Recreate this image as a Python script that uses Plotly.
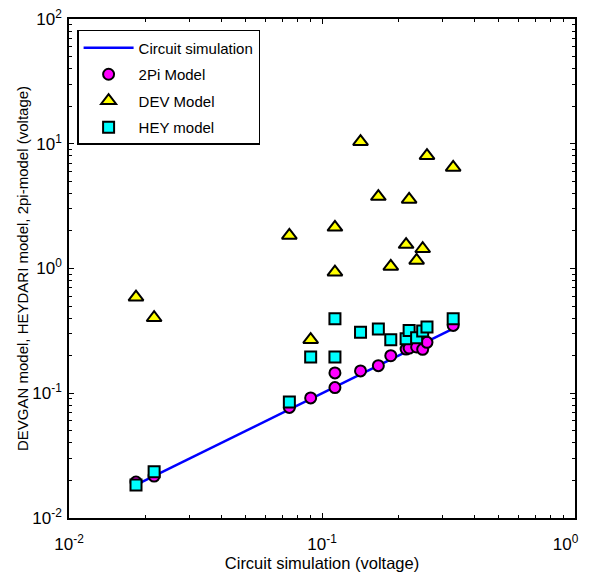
import plotly.graph_objects as go

# Circuit simulation values (x) and model estimates (y)
circuit_x = [0.0184, 0.0217, 0.0743, 0.0902, 0.1125, 0.1125, 0.142, 0.167, 0.187,
             0.215, 0.221, 0.2366, 0.250, 0.260, 0.330]
pi2_y = [0.0194, 0.0217, 0.077, 0.0917, 0.111, 0.1455, 0.151, 0.1665, 0.200,
         0.226, 0.230, 0.235, 0.225, 0.256, 0.35]
dev_y = [0.589, 0.403, 1.84, 0.269, 2.14, 0.934, 10.4, 3.77, 1.04,
         1.556, 3.58, 1.16, 1.44, 8.02, 6.46]
hey_y = [0.0184, 0.0235, 0.0852, 0.195, 0.396, 0.195, 0.309, 0.327, 0.269,
         0.274, 0.319, 0.279, 0.316, 0.339, 0.396]

x_tickvals = [0.01, 0.1, 1]
x_ticktext = ["10<sup>-2</sup>", "10<sup>-1</sup>", "10<sup>0</sup>\u00a0\u00a0\u00a0\u00a0"]
y_tickvals = [0.01, 0.1, 1, 10, 100]
y_ticktext = ["10<sup>-2</sup>", "10<sup>-1</sup>", "10<sup>0</sup>", "10<sup>1</sup>", "10<sup>2</sup>"]

FONT = "Liberation Sans, Arial, sans-serif"

line_xy = sorted(circuit_x)

fig = go.Figure()
fig.add_trace(go.Scatter(
    x=line_xy, y=line_xy, mode="lines", name="Circuit simulation",
    line=dict(color="#0000FF", width=2.5), legendgroup="a"))
fig.add_trace(go.Scatter(
    x=circuit_x, y=pi2_y, mode="markers", name="2Pi Model", legendgroup="b",
    marker=dict(symbol="circle", size=11, color="#FF00FF",
                line=dict(color="black", width=2))))
fig.add_trace(go.Scatter(
    x=circuit_x, y=dev_y, mode="markers", name="DEV Model", legendgroup="c",
    marker=dict(symbol="triangle-up", size=13, color="#FFFF00",
                line=dict(color="black", width=2))))
fig.add_trace(go.Scatter(
    x=circuit_x, y=hey_y, mode="markers", name="HEY model", legendgroup="d",
    marker=dict(symbol="square", size=11, color="#00FFFF",
                line=dict(color="black", width=2))))

axis_common = dict(
    type="log", showline=True, linecolor="black", linewidth=1.5, mirror="ticks",
    ticks="inside", ticklen=5, tickcolor="black", tickwidth=1,
    showgrid=False, zeroline=False, tickmode="array", automargin=False,
    ticklabeloverflow="allow",
    tickfont=dict(family=FONT, size=17, color="black"),
    minor=dict(ticks="inside", ticklen=3, tickcolor="black", dtick="D1", showgrid=False),
)

fig.update_xaxes(**axis_common, range=[-2, 0], tickvals=x_tickvals, ticktext=x_ticktext,
                 ticklabelstandoff=10,
                 title=dict(text="Circuit simulation (voltage)",
                            font=dict(family=FONT, size=16.5, color="black"), standoff=1))
fig.update_yaxes(**axis_common, range=[-2, 2], tickvals=y_tickvals, ticktext=y_ticktext,
                 ticklabelstandoff=2,
                 title=dict(text="DEVGAN model, HEYDARI model, 2pi-model (voltage)",
                            font=dict(family=FONT, size=15, color="black"), standoff=0))

fig.update_layout(
    width=594, height=580,
    margin=dict(l=61, r=27, t=11, b=70),
    paper_bgcolor="white", plot_bgcolor="white",
    font=dict(family=FONT, size=15, color="black"),
    legend=dict(x=0.016, y=0.978, xanchor="left", yanchor="top",
                bordercolor="black", borderwidth=1.5, bgcolor="white",
                font=dict(family=FONT, size=15, color="black"),
                tracegroupgap=4, itemwidth=50),
    showlegend=True,
)

fig.write_html("out.html")
